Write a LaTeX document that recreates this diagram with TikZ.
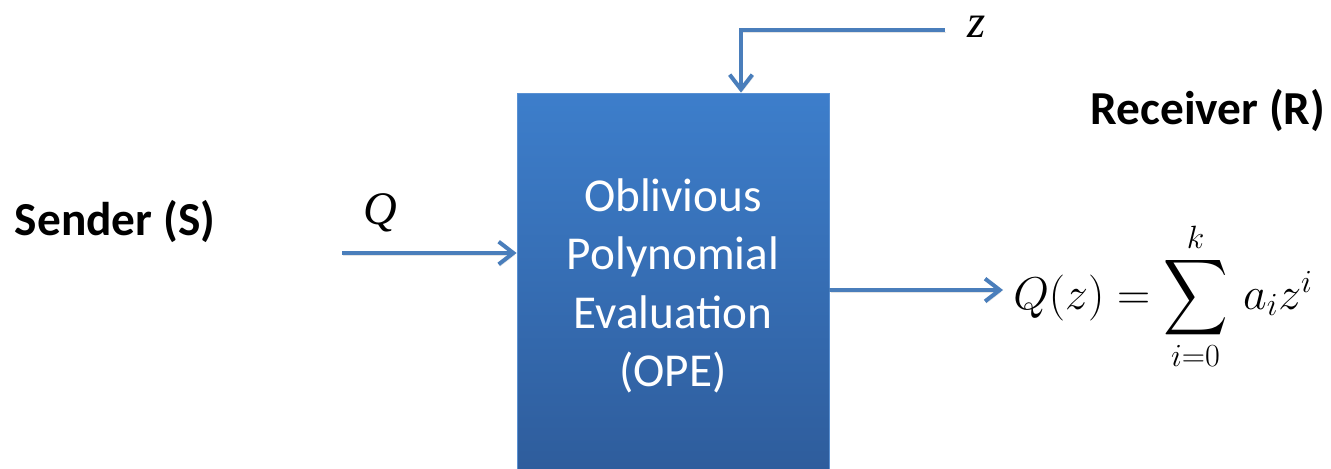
\RequirePackage{fix-cm}
\documentclass[tikz,border=0pt]{standalone}
\usepackage{amsmath}
\usepackage[no-math]{fontspec}
\setmainfont{Carlito}
\newfontfamily\tms{Liberation Serif}
\usetikzlibrary{arrows.meta}
\definecolor{flowblue}{HTML}{4A7EBB}
\definecolor{boxtop}{HTML}{3D7ECB}
\definecolor{boxbot}{HTML}{2E5C9B}
\tikzset{
  flow/.style={draw=flowblue, line width=3pt,
    -{Straight Barb[length=11pt,width=17pt,line width=3pt]},
    preaction={draw=black!35, opacity=0.3, transform canvas={shift={(1pt,-1.5pt)}}}},
  party/.style={font=\fontsize{35.5}{43}\selectfont\bfseries, text=black},
  varlabel/.style={font=\fontsize{35}{40}\selectfont\tms\itshape, text=black},
  opebox/.style={rectangle, top color=boxtop, bottom color=boxbot,
    draw=boxtop!85!white, line width=0.6pt,
    minimum width=234pt, minimum height=289.5pt, inner sep=0pt,
    text=white, align=center, font=\fontsize{35.4}{43.9}\selectfont}
}
\newcommand{\bigsum}{\mathop{\vcenter{\hbox{\scalebox{1.35}[1.6]{$\displaystyle\sum$}}}}\limits}
\begin{document}
\begin{tikzpicture}[x=0.75pt,y=-0.75pt]
  \useasboundingbox (0,0) rectangle (1331,468);

  % central evaluation block (its lower edge runs past the page)
  \node[opebox] (ope) at (673,286) {Oblivious\\Polynomial\\Evaluation\\(OPE)};

  % parties
  \node[party] (sender) at (115,222) {Sender (S)};
  \node[party] (receiver) at (1208,111) {Receiver (R)};

  % inputs and their labels
  \coordinate (qin) at (342,253);
  \node[varlabel] (qlab) at (380,213) {Q};
  \draw[flow] (qin) -- (qin -| ope.west);

  \coordinate (zin) at (945,30);
  \coordinate (zbend) at (741,30);
  \node[varlabel] (zlab) at (977,27) {z};
  \draw[flow] (zin) -- (zbend) -- (zbend |- ope.north);

  % output
  \node[anchor=base west, inner sep=0pt, font=\fontsize{34.5}{41}\selectfont] (result) at (1013,309)
    {$Q(z) = \bigsum_{i=0}^{k} \, a_i z^i$};
  \coordinate (qout) at (1003,290);
  \draw[flow] (ope.east |- qout) -- (qout);
\end{tikzpicture}
\end{document}
